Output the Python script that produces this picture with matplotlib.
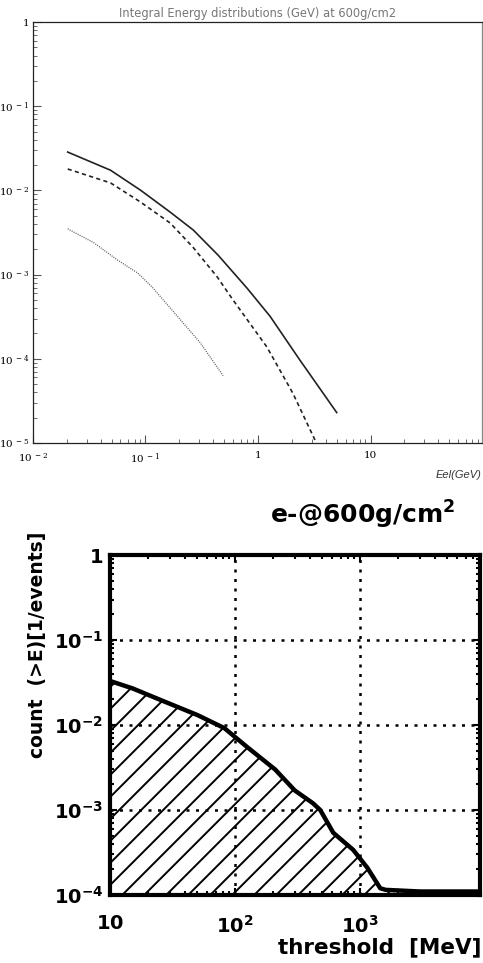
import matplotlib.pyplot as plt
from matplotlib.ticker import FixedLocator, FixedFormatter, LogLocator, NullFormatter

# top panel: integral energy distributions (GeV)
e_solid = [0.0204, 0.049, 0.0903, 0.166, 0.266, 0.443, 0.80, 1.28, 2.35, 5.0]
n_solid = [0.0286, 0.0174, 0.0101, 0.00553, 0.00339, 0.0017, 0.00069, 0.00032, 0.000097, 0.000023]
e_dash = [0.0204, 0.049, 0.0903, 0.166, 0.266, 0.434, 0.60, 1.2, 2.04, 3.3]
n_dash = [0.018, 0.0123, 0.0073, 0.0041, 0.0021, 0.00094, 0.0005, 0.000138, 0.000039, 0.00001]
e_dot = [0.0204, 0.0347, 0.0565, 0.085, 0.115, 0.307, 0.49]
n_dot = [0.0035, 0.0024, 0.00149, 0.00105, 0.00071, 0.000155, 0.000063]

top_xticks = [0.01, 0.1, 1, 10]
top_xlabels = [r'$10^{\ -2}$', r'$10^{\ -1}$', '1', '10']
top_yticks = [1e-5, 1e-4, 1e-3, 1e-2, 1e-1, 1]
top_ylabels = [r'$10^{\ -5}$', r'$10^{\ -4}$', r'$10^{\ -3}$', r'$10^{\ -2}$', r'$10^{\ -1}$', '1']

# bottom panel: count (>E) vs threshold (MeV)
thr = [10, 15.1, 27.9, 50, 82, 125, 209, 300, 420, 480, 610, 880, 1140, 1450, 1600, 3000, 9200]
cnt = [0.033, 0.027, 0.0186, 0.0131, 0.0092, 0.0055, 0.0030, 0.0017, 0.0012, 0.0010,
       0.00054, 0.00034, 0.00021, 0.00012, 0.000115, 0.00011, 0.00011]

bot_xticks = [10, 100, 1000, 10000]
bot_xlabels = [r'$\mathbf{10}$', r'$\mathbf{10^2}$', r'$\mathbf{10^3}$', r'$\mathbf{10^4}$']
bot_yticks = [1e-4, 1e-3, 1e-2, 1e-1, 1]
bot_ylabels = [r'$\mathbf{10^{-4}}$', r'$\mathbf{10^{-3}}$', r'$\mathbf{10^{-2}}$',
               r'$\mathbf{10^{-1}}$', r'$\mathbf{1}$']

fig = plt.figure(figsize=(4.83, 9.63), dpi=100)

# ---- top ----
ax1 = fig.add_axes([0.068, 0.540, 0.930, 0.437])
ax1.plot(e_solid, n_solid, color='#222222', lw=1.2, ls='-')
ax1.plot(e_dash, n_dash, color='#222222', lw=1.2, ls=(0, (2.5, 2)))
ax1.plot(e_dot, n_dot, color='#555555', lw=0.9, ls=(0, (0.8, 1.0)))
ax1.set_xscale('log')
ax1.set_yscale('log')
ax1.set_xlim(0.01, 10 ** 1.99)
ax1.set_ylim(1e-5, 1)
ax1.xaxis.set_major_locator(FixedLocator(top_xticks))
ax1.xaxis.set_major_formatter(FixedFormatter(top_xlabels))
ax1.yaxis.set_major_locator(FixedLocator(top_yticks))
ax1.yaxis.set_major_formatter(FixedFormatter(top_ylabels))
for a in (ax1.xaxis, ax1.yaxis):
    a.set_minor_locator(LogLocator(base=10, subs=range(2, 10)))
    a.set_minor_formatter(NullFormatter())
ax1.tick_params(which='both', direction='in', top=False, right=False, color='#555555')
ax1.tick_params(axis='x', which='major', length=6, width=0.8, labelsize=7.5, pad=6)
ax1.tick_params(axis='y', which='major', length=6, width=0.8, labelsize=7.5, pad=2.5)
ax1.tick_params(which='minor', length=3, width=0.6)
for lab in ax1.get_xticklabels() + ax1.get_yticklabels():
    lab.set_fontfamily('DejaVu Serif')
    lab.set_math_fontfamily('dejavuserif')
for s in ax1.spines.values():
    s.set_linewidth(0.9)
    s.set_color('#222222')
ax1.spines['right'].set_color('#888888')
ax1.set_title('Integral Energy distributions (GeV) at 600g/cm2', fontsize=8.3,
              color='#777777', family='DejaVu Sans', pad=4)
fig.text(0.997, 0.5065, 'Eel(GeV)', fontsize=8, style='italic', color='#333333',
         family='Liberation Sans', ha='right', va='center')

# ---- bottom ----
ax2 = fig.add_axes([0.228, 0.0706, 0.766, 0.353])
area = ax2.fill_between(thr, cnt, 1e-4, facecolor='white', linewidth=0)
ax2.plot(thr, cnt, color='black', lw=3.2, solid_joinstyle='round', zorder=3)
ax2.set_xscale('log')
ax2.set_yscale('log')
ax2.set_xlim(10, 10 ** 3.96)
ax2.set_ylim(1e-4, 1)

# diagonal hatching, ~22 px apart, clipped to the filled area
w_px = 4.83 * 100 * 0.766
h_px = 9.63 * 100 * 0.353
clip = area.get_paths()[0]
c = -h_px
while c < w_px:
    hl, = ax2.plot([c / w_px, (c + h_px) / w_px], [0, 1], color='black', lw=1.4,
                   transform=ax2.transAxes, zorder=2)
    hl.set_clip_path(clip, ax2.transData)
    c += 22

ax2.xaxis.set_major_locator(FixedLocator(bot_xticks))
ax2.xaxis.set_major_formatter(FixedFormatter(bot_xlabels))
ax2.yaxis.set_major_locator(FixedLocator(bot_yticks))
ax2.yaxis.set_major_formatter(FixedFormatter(bot_ylabels))
for a in (ax2.xaxis, ax2.yaxis):
    a.set_minor_locator(LogLocator(base=10, subs=range(2, 10)))
    a.set_minor_formatter(NullFormatter())
ax2.grid(True, which='major', color='black', ls=(0, (1.2, 2.6)), lw=1.8)
ax2.tick_params(which='both', direction='in', top=True, right=True, width=1.5)
ax2.tick_params(axis='x', which='major', length=5, labelsize=14, pad=14)
ax2.tick_params(axis='y', which='major', length=5, labelsize=14, pad=5)
ax2.tick_params(which='minor', length=3)
for lab in ax2.get_xticklabels() + ax2.get_yticklabels():
    lab.set_math_fontfamily('dejavusans')
for s in ax2.spines.values():
    s.set_linewidth(3)
fig.text(455 / 483, 1 - 515 / 963, r'e-@600g/cm$^\mathbf{2}$', fontsize=18,
         fontweight='bold', family='DejaVu Sans', ha='right', va='center')
fig.text(38 / 483, 1 - 645 / 963, 'count  (>E)[1/events]', fontsize=13.5,
         fontweight='bold', family='DejaVu Sans', rotation=90, ha='center', va='center')
fig.text(481 / 483, 1 - 947 / 963, 'threshold  [MeV]', fontsize=15.5,
         fontweight='bold', family='DejaVu Sans', ha='right', va='center')

fig.savefig('out.png', dpi=100)
